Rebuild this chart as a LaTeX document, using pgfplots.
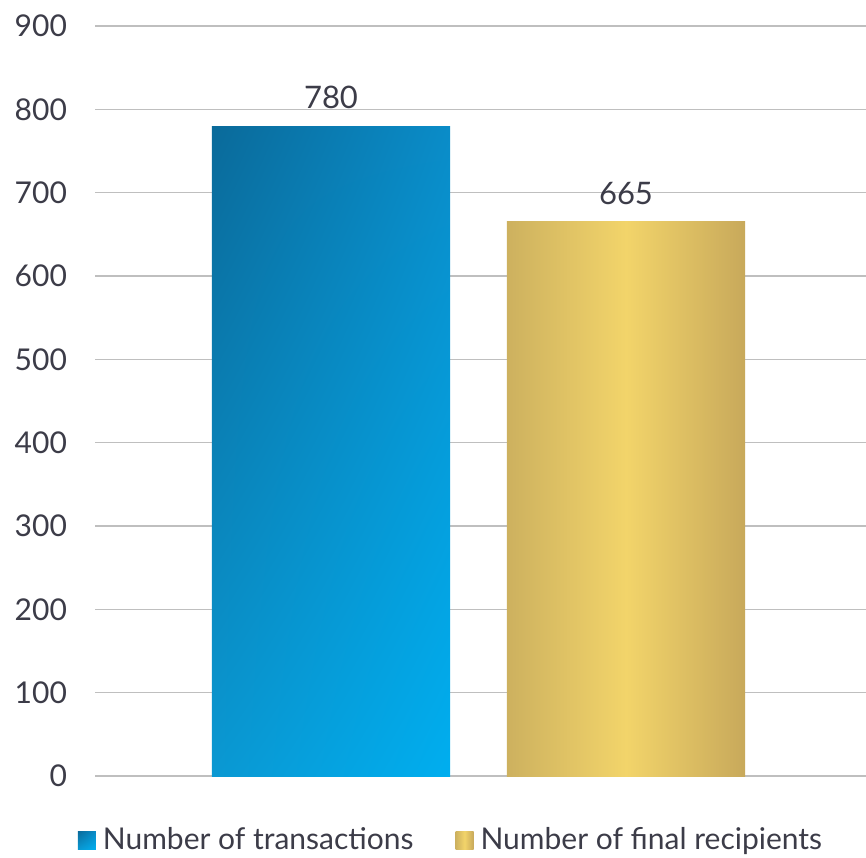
\documentclass[border=0pt]{standalone}
\usepackage{fontspec}
\setmainfont{Lato}
\usepackage{pgfplots}
\pgfplotsset{compat=1.18}
\usetikzlibrary{shadings}

\definecolor{txt}{HTML}{3C3C48}
\definecolor{grid}{HTML}{DEDEDE}
\definecolor{blueTL}{HTML}{0A6A9A}
\definecolor{blueTR}{HTML}{0A8CC8}
\definecolor{blueBL}{HTML}{0A98D2}
\definecolor{blueBR}{HTML}{00AEEF}
\definecolor{goldL}{HTML}{CDB15F}
\definecolor{goldM}{HTML}{F2D46A}
\definecolor{goldR}{HTML}{C8A95B}

\begin{document}
\begin{tikzpicture}
\path[use as bounding box] (0pt,0pt) rectangle (433pt,428.5pt);
\begin{axis}[
  at={(47.5pt,40.5pt)}, anchor=south west,
  scale only axis, width=385.5pt, height=375pt,
  xmin=0.2, xmax=2.8136, ymin=0, ymax=900,
  ytick={0,100,...,900}, xtick=\empty,
  axis line style={draw=none}, major tick length=0pt,
  ymajorgrids, grid style={grid, line width=0.75pt},
  yticklabel style={font=\fontsize{15}{18}\selectfont, text=txt, xshift=-10.5pt},
  /pgf/number format/assume math mode=true,
  ybar, bar width=0.807, bar shift=0pt,
  nodes near coords,
  every node near coord/.append style={font=\fontsize{15.5}{18}\selectfont, text=txt, yshift=5pt},
  clip=false,
  legend style={at={(0.463,-0.0855)}, anchor=center, draw=none, fill=none,
    legend columns=2, font=\fontsize{15}{18}\selectfont, text=txt,
    /tikz/every even column/.append style={column sep=19pt},
    /tikz/every odd column/.append style={column sep=1.5pt}},
  legend cell align=left,
  legend image code/.code={\path[#1] (0pt,-4.5pt) rectangle (9pt,4.5pt);},
]
\addplot[draw=none, upper left=blueTL, upper right=blueTR,
  lower left=blueBL, lower right=blueBR] coordinates {(1,780)};
\addlegendentry{Number of transactions}
\addplot[draw=none, left color=goldL, right color=goldR, middle color=goldM]
  coordinates {(2,665)};
\addlegendentry{Number of final recipients}
\end{axis}
\end{tikzpicture}
\end{document}
